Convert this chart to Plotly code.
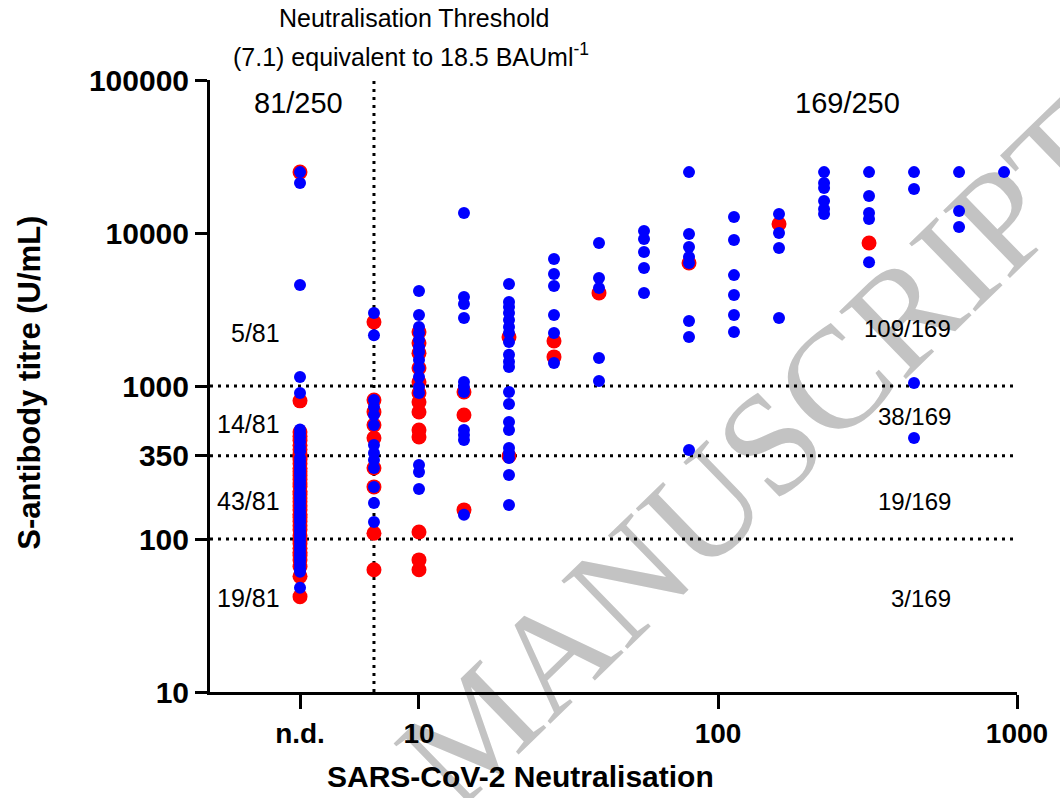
import plotly.graph_objects as go

# ---------------- data ----------------
ND_POS = 4.0                      # plotting position of "n.d." (not detected)
THRESHOLD_X = 7.07                # neutralisation threshold (7.1)
Y_CUTS = [100, 350, 1000]         # S-antibody cut-offs

columns = [ND_POS, 7.07, 10, 14.14, 20, 28.28, 40, 56.57, 80, 113.1, 160, 226.3, 320, 452.5, 640, 905.1]

red_values = [
    [25000, 800, 500, 470, 440, 410, 385, 360, 345, 330, 310, 290, 275, 260, 245, 232, 220, 205,
     195, 185, 175, 165, 155, 145, 138, 130, 122, 115, 105, 98, 93, 87, 82, 78, 73, 66, 57, 42],
    [2620, 809, 677, 556, 457, 291, 219, 109, 63],
    [2255, 1910, 1640, 1310, 1062, 900, 785, 676, 515, 464, 111, 73, 63],
    [913, 646, 155],
    [2090, 349],
    [1970, 1550],
    [4060],
    [],
    [6360],
    [],
    [11450],
    [],
    [8600],
    [],
    [],
    [],
]

blue_values = [
    [25000, 21200, 4570, 1146, 900, 520, 490, 460, 430, 400, 375, 340, 320, 300, 285, 270, 255, 240,
     228, 215, 200, 190, 180, 170, 160, 150, 142, 135, 128, 120, 113, 107, 102, 96, 90, 85, 80, 76,
     72, 68, 64, 61, 48],
    [3000, 2150, 809, 729, 646, 556, 411, 365, 328, 291, 219, 172, 129],
    [4180, 2910, 2430, 2220, 2000, 1800, 1670, 1480, 1310, 1145, 985, 900, 305, 274, 212],
    [13500, 3820, 3435, 2780, 1062, 985, 913, 515, 478, 444, 144],
    [4640, 3540, 3280, 3000, 2700, 2430, 2220, 1940, 1600, 1440, 1330, 913, 762, 582, 515, 393, 365,
     338, 262, 167],
    [6760, 5395, 4505, 2910, 2220, 1415],
    [8600, 5080, 4375, 1525, 1080],
    [10300, 9140, 7520, 5910, 4060],
    [25000, 9840, 8090, 6960, 6360, 2660, 2090, 382],
    [12740, 8990, 5305, 3935, 2910, 2255],
    [13300, 10000, 7980, 2780],
    [25000, 21230, 19700, 16190, 14340, 13300],
    [25000, 17460, 13520, 12360, 6450],
    [25000, 19400, 1046, 457],
    [25000, 13930, 10930],
    [25000],
]

x_tick_vals = [ND_POS, 10, 100, 1000]
x_tick_text = ["n.d.", "10", "100", "1000"]
y_tick_vals = [10, 100, 350, 1000, 10000, 100000]
y_tick_text = ["10", "100", "350", "1000", "10000", "100000"]

left_labels = ["5/81", "14/81", "43/81", "19/81"]
right_labels = ["109/169", "38/169", "19/169", "3/169"]

# ---------------- figure ----------------
X_MIN, X_MAX = 2.0, 1000.0
Y_MIN, Y_MAX = 10.0, 100000.0

def flatten(groups):
    xs, ys = [], []
    for cx, vals in zip(columns, groups):
        for v in vals:
            xs.append(cx)
            ys.append(v)
    return xs, ys

fig = go.Figure()

dot_line = dict(color="black", width=3, dash="3px,5px")
for yc in Y_CUTS:
    fig.add_trace(go.Scatter(x=[X_MIN, X_MAX], y=[yc, yc], mode="lines", line=dot_line,
                             hoverinfo="skip", showlegend=False))
fig.add_trace(go.Scatter(x=[THRESHOLD_X, THRESHOLD_X], y=[Y_MIN, Y_MAX], mode="lines", line=dot_line,
                         hoverinfo="skip", showlegend=False, cliponaxis=False))

rx, ry = flatten(red_values)
bx, by = flatten(blue_values)
fig.add_trace(go.Scatter(x=rx, y=ry, mode="markers", showlegend=False, cliponaxis=False,
                         marker=dict(color="#ff0000", size=15, line=dict(width=0))))
fig.add_trace(go.Scatter(x=bx, y=by, mode="markers", showlegend=False, cliponaxis=False,
                         marker=dict(color="#0000ff", size=12, line=dict(width=0))))

L, R, T, B = 210, 40, 80, 106
W, H = 1060, 798
PW, PH = W - L - R, H - T - B

def px(xp):
    return (xp - L) / PW

def py(yp):
    return (H - B - yp) / PH

font_reg = "Liberation Sans, Arial, sans-serif"
annotations = []

def add_text(text, xp, yp, size, xanchor="center", bold=False, angle=0):
    f = dict(family=font_reg, size=size, color="black")
    if bold:
        f["weight"] = "bold"
    annotations.append(dict(text=text, x=px(xp), y=py(yp), xref="paper", yref="paper",
                            xanchor=xanchor, yanchor="middle", showarrow=False,
                            textangle=angle, font=f))

add_text("Neutralisation Threshold", 415, 18, 25)
add_text("(7.1) equivalent to 18.5 BAUml<sup>-1</sup>", 412, 55, 25)
add_text("81/250", 299, 103, 29)
add_text("169/250", 850, 103, 29)
for lab, yp in zip(left_labels, [333, 424, 501, 598]):
    add_text(lab, 282, yp, 25, xanchor="right")
for lab, yp in zip(right_labels, [328, 416, 501, 598]):
    add_text(lab, 956, yp, 24, xanchor="right")

# axis titles
add_text("SARS-CoV-2 Neutralisation", 522, 776, 30, bold=True)
add_text("S-antibody titre (U/mL)", 28, 383, 31, bold=True, angle=-90)

# watermark as a below-layer shape label
shapes = [dict(type="line", xref="paper", yref="paper",
               x0=px(483), y0=py(815), x1=px(1131), y1=py(189),
               line=dict(color="rgba(0,0,0,0)", width=0), layer="below",
               label=dict(text="MANUSCRIPT", textposition="middle",
                          font=dict(family="Liberation Serif, Times New Roman, serif",
                                    size=145, color="#c3c3c3")))]

tickfont = dict(family=font_reg, size=30, color="black", weight="bold")
fig.update_layout(
    width=W, height=H,
    margin=dict(l=L, r=R, t=T, b=B, pad=0),
    paper_bgcolor="white", plot_bgcolor="rgba(0,0,0,0)",
    annotations=annotations, shapes=shapes,
    font=dict(family=font_reg, color="black"),
    xaxis=dict(type="log", range=[0.30103, 3.0], tickvals=x_tick_vals, ticktext=x_tick_text,
               ticks="outside", ticklen=14, tickwidth=3, tickcolor="black",
               showline=True, linewidth=3, linecolor="black", showgrid=False, zeroline=False,
               tickfont=dict(family=font_reg, size=28, color="black", weight="bold")),
    yaxis=dict(type="log", range=[1, 5], tickvals=y_tick_vals, ticktext=y_tick_text,
               ticks="outside", ticklen=12, tickwidth=3, tickcolor="black",
               showline=True, linewidth=3, linecolor="black", showgrid=False, zeroline=False,
               tickfont=tickfont),
)

fig.write_html("out.html", config={"displayModeBar": False},
               post_script="document.body.style.margin='0';")
